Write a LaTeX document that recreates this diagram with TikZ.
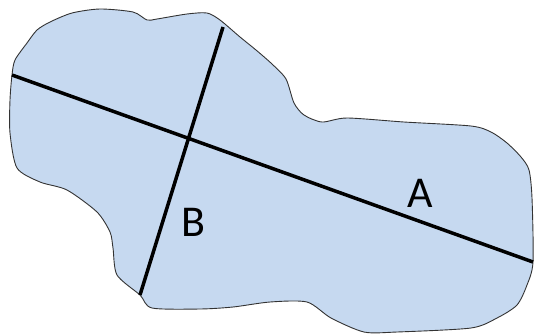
\documentclass[tikz,border=0pt]{standalone}
\usepackage{fontspec}
\setmainfont{Carlito}
\usepackage{tikz}
\usetikzlibrary{calc}
\definecolor{blobFill}{HTML}{C6D9F0}
\definecolor{blobEdge}{HTML}{333333}
\tikzset{
  blob/.style={draw=blobEdge, fill=blobFill, line width=0.9pt},
  axisLine/.style={draw=black, line width=3.5pt},
  axisLabel/.style={font=\fontsize{44}{44}\selectfont, text=black, inner sep=0pt},
}
\begin{document}
\begin{tikzpicture}[x=1pt, y=-1pt]
    \useasboundingbox (0,0) rectangle (534,335);
    % outline of the region
    \draw[blob] plot[smooth cycle, tension=0.45] coordinates {
      (12,75) (15,60) (27,43) (37,30) (50,22) (72,13) (100,9) (133,12)
      (147,20) (157,19) (187,14) (207,13) (220,20) (240,37) (256,50)
      (272,64) (286,79) (294,103) (304,115) (322,122) (347,118)
      (404,122) (471,126) (491,132) (507,143) (521,157) (529,170)
      (532,198) (533,262) (527,285) (517,305) (497,318) (471,328)
      (397,332) (364,332) (331,318) (307,302) (270,302) (233,307)
      (200,309) (152,308) (140,295) (117,275) (113,248) (110,232)
      (97,212) (67,190) (40,182) (17,168) (10,133) (10,100)};
    % end points of the two lines
    \coordinate (aL) at (12,75);
    \coordinate (aR) at (533,262);
    \coordinate (bT) at (223,27);
    \coordinate (bB) at (140,295);
    \draw[axisLine] (aL) -- (aR);
    \draw[axisLine] (bT) -- (bB);
    \node[axisLabel] (labA) at (420,193) {A};
    \node[axisLabel] (labB) at (193,222) {B};
  \end{tikzpicture}
\end{document}
